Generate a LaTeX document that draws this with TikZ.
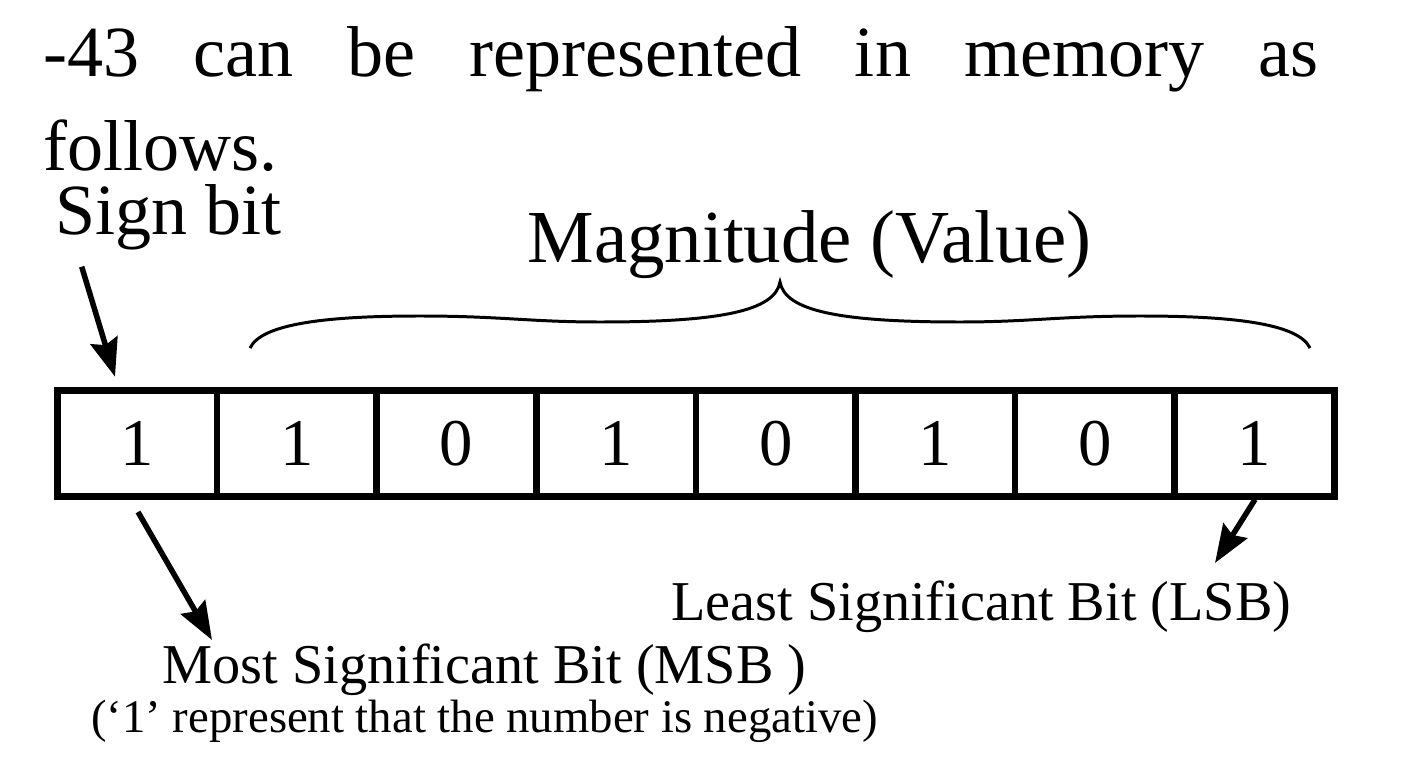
\documentclass[tikz,border=0pt]{standalone}
\usepackage{fontspec}
\setmainfont{Liberation Serif}
\usepackage{tikz}
\usetikzlibrary{arrows.meta}
\usetikzlibrary{positioning}

\begin{document}
\begin{tikzpicture}[on grid, node distance=1.596cm, inner sep=0pt,
    bit/.style={draw, line width=0.065cm, outer sep=0pt, minimum width=1.596cm,
      minimum height=1.06cm, font=\fontsize{19}{23}\selectfont},
    note/.style={font=\fontsize{16}{19}\selectfont},
    ptr/.style={-{Stealth[length=0.38cm, width=0.28cm, inset=0.05cm]}, line width=0.055cm}]
  \useasboundingbox (0,0) rectangle (14.18,7.56);

  % text above the register
  \node[text width=12.75cm, align=justify, anchor=base west,
        font=\fontsize{20.5}{26.7}\selectfont] (intro) at (0.43,6.79)
        {-43 can be represented in memory as\linebreak follows.};
  \node[anchor=base west, font=\fontsize{20.5}{24}\selectfont] (sign) at (0.55,5.21) {Sign bit};
  \node[anchor=base west, font=\fontsize{21.3}{25}\selectfont] (mag) at (5.27,4.93) {Magnitude (Value)};

  % the eight bits
  \node[bit] (b_7) at (1.373,3.125) {1};
  \node[bit] (b_6) [right of=b_7] {1};
  \node[bit] (b_5) [right of=b_6] {0};
  \node[bit] (b_4) [right of=b_5] {1};
  \node[bit] (b_3) [right of=b_4] {0};
  \node[bit] (b_2) [right of=b_3] {1};
  \node[bit] (b_1) [right of=b_2] {0};
  \node[bit] (b_0) [right of=b_1] {1};

  % labels below
  \node[note, anchor=base east] (lsb) at (12.92,1.36) {Least Significant Bit (LSB)};
  \node[note, anchor=base west] (msb) at (1.62,0.73) {Most Significant Bit (MSB )};
  \node[anchor=base, font=\fontsize{13.3}{16}\selectfont] (neg) at ([yshift=-0.49cm]msb.base)
        {(‘1’ represent that the number is negative)};

  % brace over the magnitude bits
  \draw[line width=0.85pt]
    (2.50,4.08) .. controls (2.62,4.33) and (3.3,4.40) .. (4.2,4.40)
    .. controls (5.0,4.40) and (5.3,4.34) .. (6.0,4.34)
    .. controls (7.2,4.34) and (7.75,4.45) .. (7.80,4.74)
    .. controls (7.85,4.45) and (8.4,4.34) .. (9.6,4.34)
    .. controls (10.3,4.34) and (10.6,4.40) .. (11.4,4.40)
    .. controls (12.3,4.40) and (12.98,4.33) .. (13.10,4.08);

  \path[ptr]
    ([shift={(0.267,-0.317)}]sign.base west) edge ([shift={(-0.223,0.138)}]b_7.north)
    ([shift={(0.007,-0.155)}]b_7.south)      edge ([shift={(0.5,0.43)}]msb.base west)
    ([shift={(0.005,-0.03)}]b_0.south)       edge ([shift={(-0.77,0.57)}]lsb.base east);
\end{tikzpicture}
\end{document}
